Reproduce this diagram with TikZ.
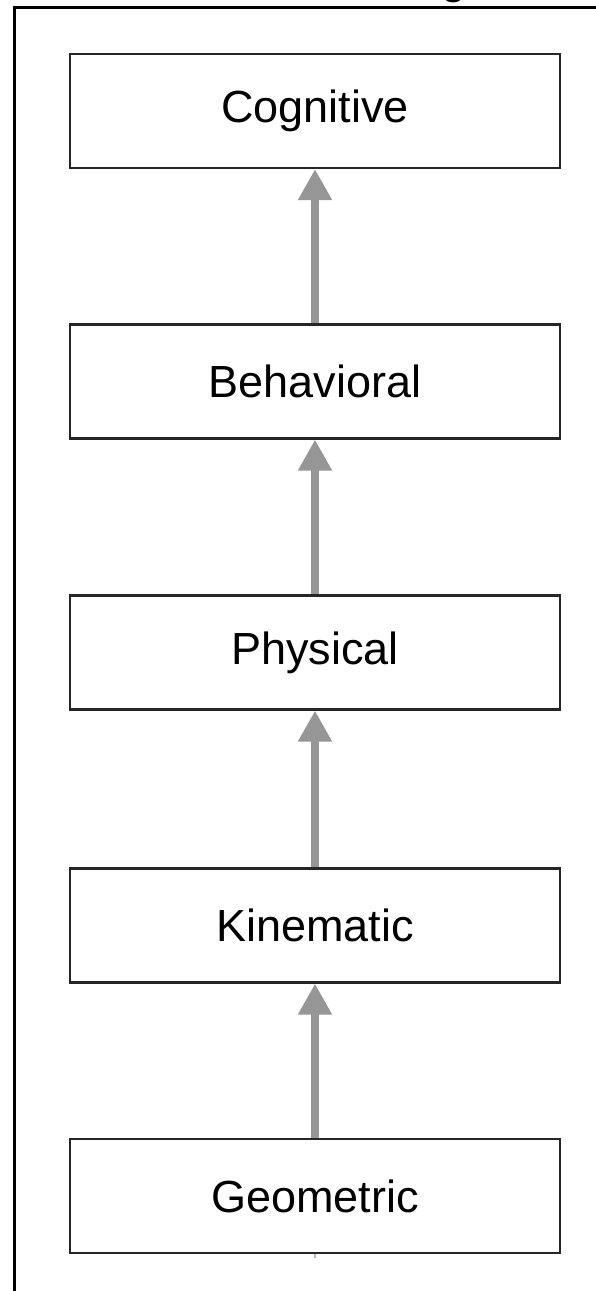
\documentclass[tikz,border=0pt]{standalone}
\usepackage{fontspec}
\setmainfont{Liberation Sans}
\usetikzlibrary{arrows.meta}
\definecolor{arrowgrey}{HTML}{969696}
\definecolor{boxline}{HTML}{262626}
\begin{document}
\begin{tikzpicture}[x=1pt,y=1pt,
  level/.style={draw=boxline, line width=2.2pt, fill=white,
    minimum width=490pt, minimum height=114pt, inner sep=0pt,
    font=\fontsize{45}{54}\selectfont},
  uparrow/.style={draw=arrowgrey, line width=8pt,
    -{Triangle[length=31pt,width=32pt]}}]
  \useasboundingbox (0,0) rectangle (595,1291);
  \fill[white] (0,0) rectangle (595,1291);

  % frame: top rule and left rule
  \coordinate (frameTL) at (14.5,1283.5);
  \coordinate (frameTR) at (600,1283.5);
  \coordinate (frameBL) at (14.5,-5);
  \draw[line width=2.6pt, black] (frameTR) -- (frameTL) -- (frameBL);

  % caption above the frame (only its lowest stroke falls on the page)
  \node[anchor=base, font=\fontsize{45}{54}\selectfont, inner sep=0pt] (caption) at (454,1297) {g};

  % the five levels
  \node[level] (cog) at (315,1180)   {Cognitive};
  \node[level] (beh) at (315,909.5)  {Behavioral};
  \node[level] (phy) at (315,638.5)  {Physical};
  \node[level] (kin) at (315,365.5)  {Kinematic};
  \node[level] (geo) at (315,95)     {Geometric};

  % arrows between levels
  \draw[uparrow] (geo.north) -- (kin.south);
  \draw[uparrow] (kin.north) -- (phy.south);
  \draw[uparrow] (phy.north) -- (beh.south);
  \draw[uparrow] (beh.north) -- (cog.south);

  % short stub below the bottom level
  \coordinate (stub) at (315,33);
  \draw[arrowgrey!70, line width=2pt] (geo.south) -- (stub);
\end{tikzpicture}
\end{document}
